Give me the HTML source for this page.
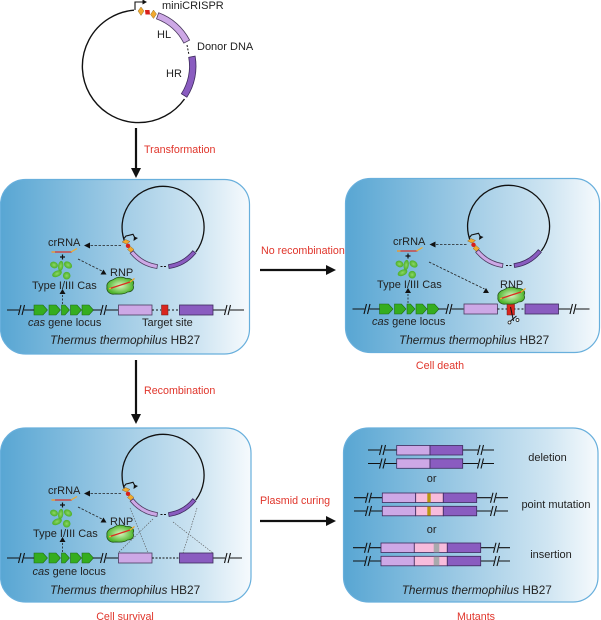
<!DOCTYPE html>
<html><head><meta charset="utf-8">
<style>
html,body{margin:0;padding:0;background:#fff;width:601px;height:620px;overflow:hidden}
svg{display:block}
text{font-family:"Liberation Sans",sans-serif;font-size:11px;fill:#222}
.r{fill:#e0352b;font-size:10.7px}
.t{font-size:11.8px}
.i{font-style:italic}
.c{text-anchor:middle}
</style></head><body>
<svg width="601" height="620" viewBox="0 0 601 620" xmlns="http://www.w3.org/2000/svg">
<defs>
<linearGradient id="bg" x1="0" x2="1" y1="0" y2="0">
<stop offset="0" stop-color="#58a6d3"/><stop offset="0.5" stop-color="#a3cde6"/><stop offset="0.8" stop-color="#cfe5f2"/><stop offset="1" stop-color="#f6fafd"/>
</linearGradient>
<radialGradient id="gr"><stop offset="0" stop-color="#d8f5c0"/><stop offset="1" stop-color="#4fb52c"/></radialGradient>
<radialGradient id="gb"><stop offset="0" stop-color="#8cd866"/><stop offset="1" stop-color="#4cae28"/></radialGradient>
<marker id="ah" markerWidth="6" markerHeight="6" refX="5" refY="3" orient="auto" markerUnits="userSpaceOnUse"><path d="M0 0L6 3L0 6Z" fill="#111"/></marker>
<g id="plasmid">
<path d="M195.800 252A41 41 0 1 0 125.200 243" fill="none" stroke="#111" stroke-width="1.300"/>
<path d="M124 238.500L126 236L133 234.300L135.500 239" fill="none" stroke="#111" stroke-width="1.100"/>
<path d="M133.500 241L138 238L134 236.500Z" fill="#111"/>
<path d="M122 242L125.500 239.500L130 241.500L126.500 244Z" fill="#f2a92e" stroke="#7a5a20" stroke-width=".4"/>
<circle cx="128" cy="245.800" r="2.200" fill="#d8201c"/>
<path d="M127.500 249.500L130.500 246.500L134 249.500L131 252.500Z" fill="#f2a92e" stroke="#7a5a20" stroke-width=".4"/>
<path d="M130.200 253.200A42 42 0 0 0 156.900 268.500L157.500 264.600A38 38 0 0 1 133.300 250.700Z" fill="#cda8e6" stroke="#4a3a5e" stroke-width=".8"/>
<path d="M169.100 268.500A42 42 0 0 0 195.800 253.200L192.700 250.700A38 38 0 0 1 168.500 264.600Z" fill="#8a5cc0" stroke="#3c2a5c" stroke-width=".8"/>
<path d="M160.500 266.500H166" stroke="#111" stroke-width="1" stroke-dasharray="2 1.500"/>
</g>
<g id="genes">
<path d="M34 305H43L47.500 310L43 315H34Z M49 305H56L60.500 310L56 315H49Z M61.500 305H65L69.500 310L65 315H61.500Z M70.500 305H77L81.500 310L77 315H70.500Z M82 305H89L93.500 310L89 315H82Z" fill="#35ad1f" stroke="#1e6a14" stroke-width=".6"/>
</g>
<g id="brk"><path d="M-1.500 5L1 -5M2 5L4.500 -5" stroke="#111" stroke-width="1.100" fill="none"/></g>
<g id="cas">
<ellipse cx="54" cy="265" rx="4" ry="3.200" fill="url(#gb)" transform="rotate(20 54 265)"/>
<ellipse cx="60.700" cy="266" rx="2.600" ry="5.200" fill="url(#gb)" transform="rotate(8 60.700 266)"/>
<ellipse cx="68" cy="265" rx="4.400" ry="3.200" fill="url(#gb)" transform="rotate(35 68 265)"/>
<ellipse cx="57" cy="273.700" rx="5.200" ry="3" fill="url(#gb)" transform="rotate(-25 57 273.700)"/>
<circle cx="66.700" cy="275.700" r="3.800" fill="url(#gb)"/>
</g>
<g id="rna">
<path d="M51.500 252H72" stroke="#d9322a" stroke-width="1.300"/>
<path d="M51.500 252H55M71 252L77 248.500" stroke="#f0a830" stroke-width="1.300" fill="none"/>
<path d="M60 257H65M62.500 254.500V259.500" stroke="#111" stroke-width="1.200"/>
</g>
<g id="blob">
<path d="M107 287C106 283 110 280.500 113.500 279.500C117 276.500 123 276.500 126 278.500C132 277.500 135 282 133 285C135 289.500 131 292 127.500 292C124 295 118 294 115 294C110.500 295 106 291.500 107 287Z" fill="url(#gr)" stroke="#24531a" stroke-width=".8"/>
<path d="M110 288.500L130 282" stroke="#dd2c22" stroke-width="1.300"/>
<path d="M130 282L134.500 278.500" stroke="#f0a830" stroke-width="1.300"/>
<path d="M109 288.800L111 288.200" stroke="#f0a830" stroke-width="1.300"/>
</g>
<path id="tri" d="M-3 2.500L0 -2.500L3 2.500Z" fill="#111"/>
</defs>

<!-- main plasmid -->
<path d="M184.500 99A56.300 56.300 0 1 1 134 10.200" fill="none" stroke="#111" stroke-width="1.400"/>
<path d="M135 10V2H143" fill="none" stroke="#111" stroke-width="1.100"/>
<path d="M142.500 -.5L147 2L142.500 4.500Z" fill="#111"/>
<path d="M138 11L141 7L144 11L141 15.500Z" fill="#f2a92e" stroke="#7a5a20" stroke-width=".4"/>
<path d="M145 10L149.500 10L150 14.500L145.500 14.500Z" fill="#d8201c"/>
<path d="M150.500 14.500L153.500 10L156.500 14L153.500 18.500Z" fill="#f2a92e" stroke="#7a5a20" stroke-width=".4"/>
<path d="M158.700 12.800A57 57 0 0 1 189.600 40.100L183.800 43.100A50.500 50.500 0 0 0 156.500 18.900Z" fill="#cda8e6" stroke="#4a3a5e" stroke-width=".8"/>
<path d="M195.100 56.100A57 57 0 0 1 186.900 97.200L181.400 93.700A50.500 50.500 0 0 0 188.700 57.300Z" fill="#8a5cc0" stroke="#3c2a5c" stroke-width=".8"/>
<path d="M187 45L189 55" stroke="#111" stroke-width="1" stroke-dasharray="2 1.500"/>
<text x="162" y="9">miniCRISPR</text>
<text x="157" y="38">HL</text>
<text x="166" y="77">HR</text>
<text x="197" y="50">Donor DNA</text>

<!-- big arrows -->
<path d="M136 128V170" stroke="#111" stroke-width="2.200"/><path d="M131 168L136 178L141 168Z" fill="#111"/>
<path d="M136 360V416" stroke="#111" stroke-width="2.200"/><path d="M131 414L136 424L141 414Z" fill="#111"/>
<path d="M260 270H328" stroke="#111" stroke-width="2.200"/><path d="M326 265L336 270L326 275Z" fill="#111"/>
<path d="M260 521H328" stroke="#111" stroke-width="2.200"/><path d="M326 516L336 521L326 526Z" fill="#111"/>
<text class="r" x="144" y="153">Transformation</text>
<text class="r" x="261" y="254">No recombination</text>
<text class="r c" x="440" y="369">Cell death</text>
<text class="r" x="144" y="394">Recombination</text>
<text class="r" x="260" y="504">Plasmid curing</text>
<text class="r c" x="125" y="620">Cell survival</text>
<text class="r c" x="476" y="620">Mutants</text>

<!-- panels -->
<rect x=".5" y="179.500" width="249" height="174.500" rx="25" fill="url(#bg)" stroke="#68afdc" stroke-width="1.200"/>
<rect x="345.500" y="178.500" width="254" height="174" rx="25" fill="url(#bg)" stroke="#68afdc" stroke-width="1.200"/>
<rect x=".5" y="428" width="250.500" height="174" rx="25" fill="url(#bg)" stroke="#68afdc" stroke-width="1.200"/>
<rect x="343.500" y="428" width="254.500" height="174" rx="25" fill="url(#bg)" stroke="#68afdc" stroke-width="1.200"/>

<!-- panel 1 -->
<use href="#plasmid"/><use href="#rna"/><use href="#cas"/><use href="#genes"/><use href="#blob"/>
<path d="M7 310H19M24 310H34M93 310H101M106 310H118M213 310H225M230 310H244" stroke="#111" stroke-width="1.100"/>
<use href="#brk" x="20" y="310"/><use href="#brk" x="102" y="310"/><use href="#brk" x="226" y="310"/>
<rect x="118.500" y="305" width="33.500" height="10" fill="#cda8e6" stroke="#4a3a5e" stroke-width=".8"/>
<path d="M152 310H161M168 310H179" stroke="#111" stroke-width="1" stroke-dasharray="2 2"/>
<rect x="161.500" y="305" width="6.500" height="10" fill="#d9261e" stroke="#6a1a14" stroke-width=".5"/>
<rect x="179.500" y="305" width="33.500" height="10" fill="#8a5cc0" stroke="#3c2a5c" stroke-width=".8"/>
<path d="M121 245.500H85" stroke="#222" stroke-width=".8" stroke-dasharray="2.500 1.500" marker-end="url(#ah)"/>
<path d="M78 259L102 271" stroke="#222" stroke-width=".8" stroke-dasharray="2.500 1.500"/><use href="#tri" x="103.500" y="272"/>
<path d="M62.500 304V294" stroke="#222" stroke-width=".8" stroke-dasharray="2 1.500"/><use href="#tri" x="62.500" y="291.500"/>
<text x="48" y="246">crRNA</text><text x="110" y="276">RNP</text>
<text x="32" y="289">Type I/III Cas</text>
<text x="28" y="326"><tspan class="i">cas</tspan> gene locus</text>
<text x="142" y="326">Target site</text>
<text class="t" x="50" y="344"><tspan class="i">Thermus thermophilus</tspan> HB27</text>

<!-- panel 2 -->
<g transform="translate(345.500 -1)">
<use href="#plasmid"/><use href="#rna"/><use href="#cas"/><use href="#genes"/>
<path d="M7 310H19M24 310H34M93 310H101M106 310H118M213 310H225M230 310H244" stroke="#111" stroke-width="1.100"/>
<use href="#brk" x="20" y="310"/><use href="#brk" x="102" y="310"/><use href="#brk" x="226" y="310"/>
<rect x="118.500" y="305" width="33.500" height="10" fill="#cda8e6" stroke="#4a3a5e" stroke-width=".8"/>
<path d="M152 310H179" stroke="#111" stroke-width="1" stroke-dasharray="2 2"/>
<rect x="179.500" y="305" width="33.500" height="10" fill="#8a5cc0" stroke="#3c2a5c" stroke-width=".8"/>
<path d="M161.500 305H169L169 316H161.500Z" fill="#d9261e" stroke="#6a1a14" stroke-width=".5"/>
<path d="M165 308L168 322M171 317L165 322" stroke="#111" stroke-width="1"/>
<circle cx="172" cy="321" r="1.500" fill="#fff" stroke="#111" stroke-width=".7"/><circle cx="164" cy="323.500" r="1.500" fill="#fff" stroke="#111" stroke-width=".7"/>
<use href="#blob" x="45.500" y="11"/>
<path d="M121 245.500H85" stroke="#222" stroke-width=".8" stroke-dasharray="2.500 1.500" marker-end="url(#ah)"/>
<path d="M83.500 263L139 290" stroke="#222" stroke-width=".8" stroke-dasharray="2.500 1.500"/><use href="#tri" x="140.500" y="291.500"/>
<path d="M62.500 304V294" stroke="#222" stroke-width=".8" stroke-dasharray="2 1.500"/><use href="#tri" x="62.500" y="291.500"/>
</g>
<text x="393" y="245">crRNA</text><text x="500" y="288">RNP</text>
<text x="377" y="288">Type I/III Cas</text>
<text x="372" y="325"><tspan class="i">cas</tspan> gene locus</text>
<text class="t" x="399" y="344"><tspan class="i">Thermus thermophilus</tspan> HB27</text>

<!-- panel 3 -->
<g transform="translate(0 248)">
<use href="#plasmid"/><use href="#rna"/><use href="#cas"/><use href="#genes"/><use href="#blob"/>
<path d="M7 310H19M24 310H34M93 310H101M106 310H118M213 310H225M230 310H242" stroke="#111" stroke-width="1.100"/>
<use href="#brk" x="20" y="310"/><use href="#brk" x="102" y="310"/><use href="#brk" x="226" y="310"/>
<rect x="118.500" y="305" width="33.500" height="10" fill="#cda8e6" stroke="#4a3a5e" stroke-width=".8"/>
<path d="M152 310H179" stroke="#111" stroke-width="1" stroke-dasharray="2 1.500"/>
<rect x="179.500" y="305" width="33.500" height="10" fill="#8a5cc0" stroke="#3c2a5c" stroke-width=".8"/>
<path d="M130 260L148 305M153 271L118 305M197 260L183 305M173 274L213 305" stroke="#555" stroke-width=".6" stroke-dasharray="1.500 1.200" fill="none"/>
<path d="M121 245.500H85" stroke="#222" stroke-width=".8" stroke-dasharray="2.500 1.500" marker-end="url(#ah)"/>
<path d="M78 259L102 271" stroke="#222" stroke-width=".8" stroke-dasharray="2.500 1.500"/><use href="#tri" x="103.500" y="272"/>
<path d="M62.500 304V294" stroke="#222" stroke-width=".8" stroke-dasharray="2 1.500"/><use href="#tri" x="62.500" y="291.500"/>
</g>
<text x="48" y="494">crRNA</text><text x="110" y="525">RNP</text>
<text x="33" y="537">Type I/III Cas</text>
<text x="32.500" y="575"><tspan class="i">cas</tspan> gene locus</text>
<text class="t" x="50" y="594"><tspan class="i">Thermus thermophilus</tspan> HB27</text>

<!-- panel 4 -->
<path d="M368 450H380M385 450H397M463 450H478M483 450H494M368 463.500H380M385 463.500H397M463 463.500H478M483 463.500H494" stroke="#111" stroke-width="1.100"/>
<use href="#brk" x="381" y="450"/><use href="#brk" x="479" y="450"/><use href="#brk" x="381" y="463.500"/><use href="#brk" x="479" y="463.500"/>
<g stroke="#3c2a5c" stroke-width=".8">
<rect x="396.700" y="445.500" width="33.300" height="9.500" fill="#cda8e6"/><rect x="430" y="445.500" width="32.700" height="9.500" fill="#8a5cc0"/>
<rect x="396.700" y="458.800" width="33.300" height="9.500" fill="#cda8e6"/><rect x="430" y="458.800" width="32.700" height="9.500" fill="#8a5cc0"/>
</g>
<path d="M354 497.700H366M371 497.700H382M477 497.700H491M496 497.700H508M354 511H366M371 511H382M477 511H491M496 511H508" stroke="#111" stroke-width="1.100"/>
<use href="#brk" x="367" y="497.700"/><use href="#brk" x="492" y="497.700"/><use href="#brk" x="367" y="511"/><use href="#brk" x="492" y="511"/>
<g stroke="#3c2a5c" stroke-width=".8">
<rect x="382.300" y="493" width="33.400" height="9.500" fill="#cda8e6"/><rect x="415.700" y="493" width="27.600" height="9.500" fill="#f8bcdc"/><rect x="443.300" y="493" width="33.400" height="9.500" fill="#8a5cc0"/>
<rect x="382.300" y="506.300" width="33.400" height="9.500" fill="#cda8e6"/><rect x="415.700" y="506.300" width="27.600" height="9.500" fill="#f8bcdc"/><rect x="443.300" y="506.300" width="33.400" height="9.500" fill="#8a5cc0"/>
</g>
<rect x="427.300" y="493.300" width="3.400" height="9" fill="#b8960f"/><rect x="427.300" y="506.600" width="3.400" height="9" fill="#b8960f"/>
<path d="M353 547.700H365M370 547.700H381M481 547.700H494M499 547.700H510M353 561H365M370 561H381M481 561H494M499 561H510" stroke="#111" stroke-width="1.100"/>
<use href="#brk" x="366" y="547.700"/><use href="#brk" x="495" y="547.700"/><use href="#brk" x="366" y="561"/><use href="#brk" x="495" y="561"/>
<g stroke="#3c2a5c" stroke-width=".8">
<rect x="381" y="543" width="33.300" height="9.500" fill="#cda8e6"/><rect x="414.300" y="543" width="33" height="9.500" fill="#f8bcdc"/><rect x="447.300" y="543" width="33.400" height="9.500" fill="#8a5cc0"/>
<rect x="381" y="556.300" width="33.300" height="9.500" fill="#cda8e6"/><rect x="414.300" y="556.300" width="33" height="9.500" fill="#f8bcdc"/><rect x="447.300" y="556.300" width="33.400" height="9.500" fill="#8a5cc0"/>
</g>
<rect x="433.700" y="543.300" width="5.600" height="9" fill="#a9a9ad"/><rect x="433.700" y="556.600" width="5.600" height="9" fill="#a9a9ad"/>
<text class="c" x="547.500" y="461">deletion</text>
<text class="c" x="431.700" y="482">or</text>
<text class="c" x="556" y="508">point mutation</text>
<text class="c" x="431.700" y="533">or</text>
<text class="c" x="551" y="558">insertion</text>
<text class="t" x="401.700" y="594"><tspan class="i">Thermus thermophilus</tspan> HB27</text>
</svg>
</body></html>
